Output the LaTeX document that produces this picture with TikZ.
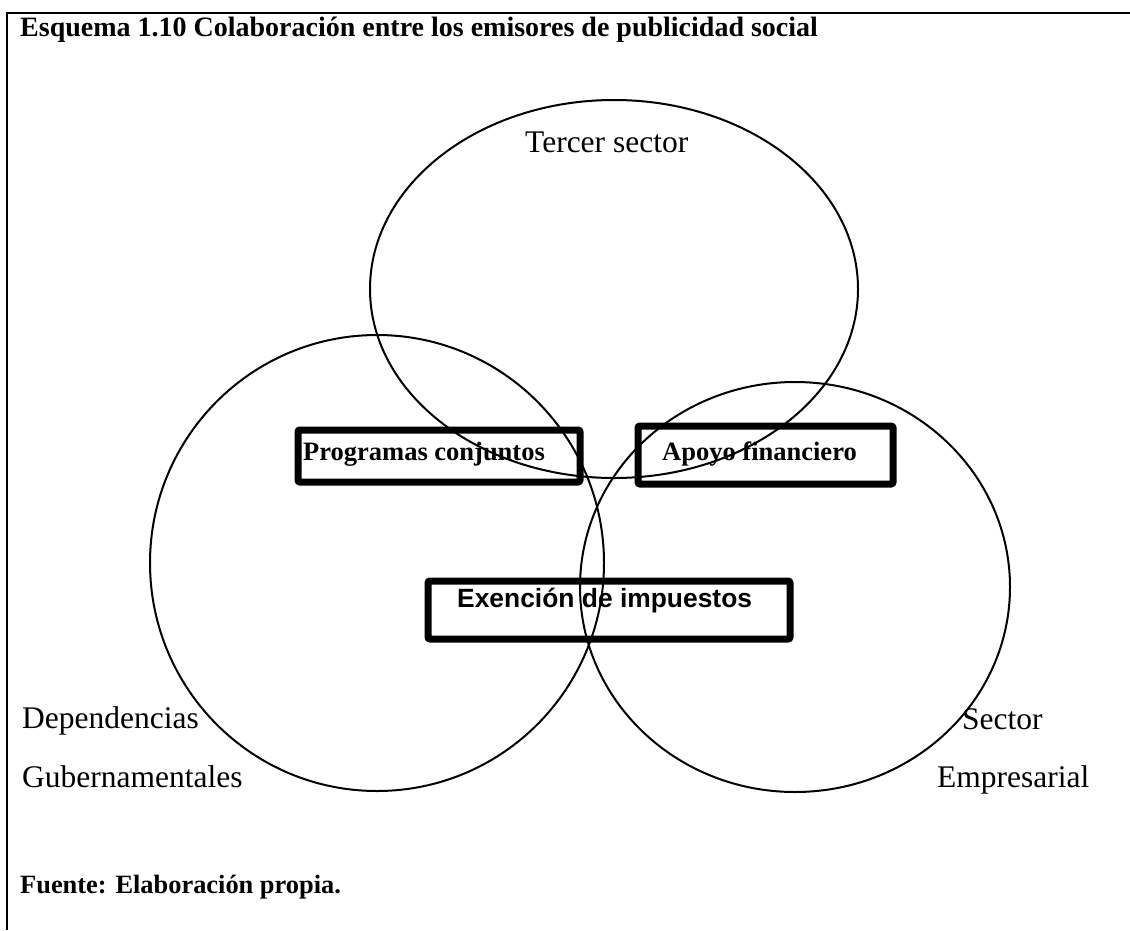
\documentclass[tikz,border=0pt]{standalone}
\usepackage{fontspec}
\setmainfont{Liberation Serif}
\newfontfamily\arialfont{Liberation Sans}
\usetikzlibrary{shapes.geometric}

\tikzset{
  sector/.style={draw, ellipse, line width=2pt, inner sep=0pt, outer sep=0pt},
  relbox/.style={draw, line width=7pt, rounded corners=2pt, inner sep=0pt, outer sep=0pt},
  lbl/.style={inner sep=0pt, anchor=base west, font=\fontsize{31.5}{36}\selectfont},
  boxlbl/.style={inner sep=0pt, anchor=base west, font=\fontsize{26.5}{30}\selectfont\bfseries},
  note/.style={inner sep=0pt, anchor=base west, font=\fontsize{28}{32}\selectfont\bfseries},
}

\begin{document}
\begin{tikzpicture}[x=1pt, y=-1pt]
\useasboundingbox (0,0) rectangle (1130,930);

% frame: left and top rules
\draw[line width=2pt] (7,930) -- (7,12.5) -- (1130,12.5);

% title and source
\node[note] (title) at (20,36) {Esquema 1.10 Colaboración entre los emisores de publicidad social};
\node[note, font=\fontsize{26.4}{30}\selectfont\bfseries] (source) at (20,893) {Fuente: Elaboración propia.};

% the three sectors
\node[sector, minimum width=488pt, minimum height=378pt] (tercer) at (614,289) {};
\node[sector, minimum width=454pt, minimum height=456pt] (gob) at (377,563) {};
\node[sector, minimum width=430pt, minimum height=410pt] (emp) at (795,587) {};

% sector labels
\node[lbl] (tercerlbl) at (525,152) {Tercer sector};
\node[lbl] (dep) at (22,728) {Dependencias};
\node[lbl] (gub) at (22,787) {Gubernamentales};
\node[lbl] (sec) at (962,729) {Sector};
\node[lbl] (empr) at (937,787) {Empresarial};

% collaboration boxes
\draw[relbox] (298,430) rectangle (580,482);
\draw[relbox] (638,426) rectangle (893,484);
\draw[relbox] (428,581) rectangle (790,639);

\node[boxlbl] (prog) at (303,460) {Programas conjuntos};
\node[boxlbl] (apoyo) at (662,460) {Apoyo financiero};
\node[boxlbl, font=\fontsize{26.4}{30}\selectfont\bfseries\arialfont] (exen) at (457,607) {Exención de impuestos};
\end{tikzpicture}
\end{document}
